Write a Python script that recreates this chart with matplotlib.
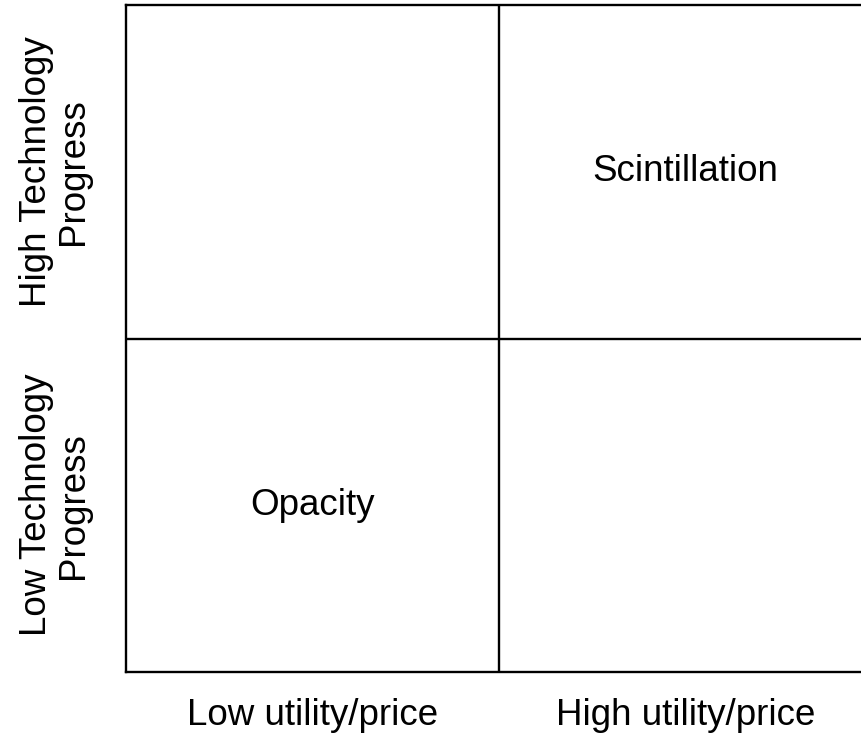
import matplotlib.pyplot as plt

# 2x2 matrix: columns = utility/price, rows = technology progress
col_labels = ["Low utility/price", "High utility/price"]
row_labels = ["Low Technology\nProgress", "High Technology\nProgress"]
# (column index, row index, text)
cells = [(1, 1, "Scintillation"), (0, 0, "Opacity")]

plt.rcParams['font.family'] = ['Liberation Sans', 'DejaVu Sans']
fs = 26.5

fig = plt.figure(figsize=(8.62, 7.35), dpi=100)
# the right border of the box runs past the right edge of the picture
ax = fig.add_axes([126 / 862, 63 / 735, 746 / 862, 667 / 735])
ax.set_xlim(0, 2)
ax.set_ylim(0, 2)

for s in ax.spines.values():
    s.set_linewidth(1.7)
    s.set_color("black")
ax.axvline(1, color="black", lw=1.7)
ax.axhline(1, color="black", lw=1.7)

for c, r, t in cells:
    ax.text(c + 0.5, r + 0.5, t, ha="center", va="center", fontsize=fs)

ax.set_xticks([i + 0.5 for i in range(len(col_labels))])
ax.set_xticklabels(col_labels, fontsize=fs)
ax.tick_params(axis="x", length=0, pad=19)
ax.set_yticks([])

for i, lab in enumerate(row_labels):
    ax.text(-0.095, i + 0.5, lab, transform=ax.get_yaxis_transform(),
            rotation=90, ha="center", va="center", fontsize=fs,
            multialignment="center", linespacing=1.05)

fig.savefig("out.png", dpi=100)
